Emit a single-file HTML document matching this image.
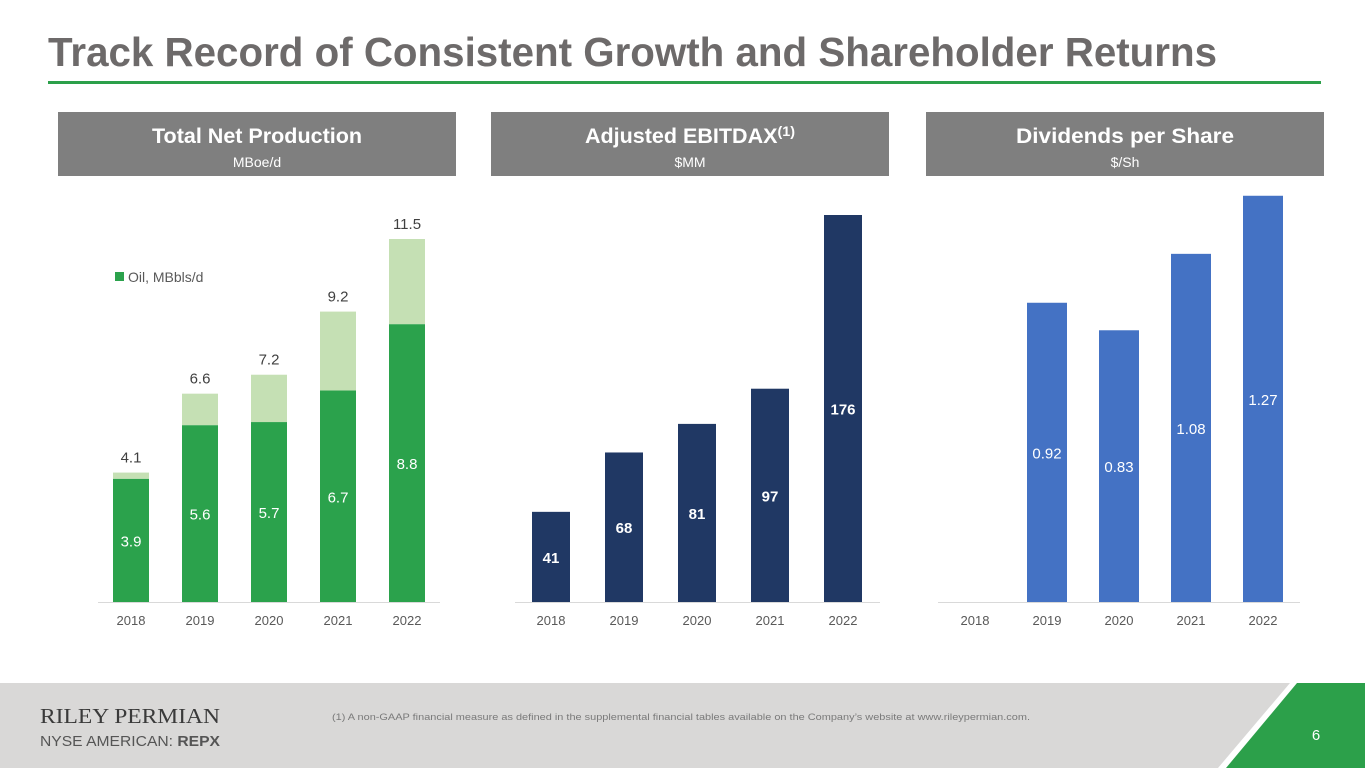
<!DOCTYPE html>
<html><head><meta charset="utf-8"><style>
body{margin:0;background:#fff;}
svg{display:block;font-family:"Liberation Sans",sans-serif;}
</style></head><body>
<svg id="s" width="1365" height="768" viewBox="0 0 1365 768">
<text x="48" y="66" font-size="41" font-weight="bold" fill="#6d6a6a" textLength="1169" lengthAdjust="spacingAndGlyphs">Track Record of Consistent Growth and Shareholder Returns</text>
<rect x="48" y="81" width="1273" height="3" fill="#2ca04a"/>
<g>
<rect x="58" y="112" width="398" height="64" fill="#7f7f7f"/>
<text x="257" y="143" font-size="21" font-weight="bold" fill="#fff" text-anchor="middle" textLength="210" lengthAdjust="spacingAndGlyphs">Total Net Production</text>
<text x="257" y="167" font-size="14" fill="#fff" text-anchor="middle">MBoe/d</text></g>
<g>
<rect x="491" y="112" width="398" height="64" fill="#7f7f7f"/>
<text x="690" y="143" font-size="21" font-weight="bold" fill="#fff" text-anchor="middle" textLength="210" lengthAdjust="spacingAndGlyphs">Adjusted EBITDAX<tspan font-size="14" dy="-7">(1)</tspan></text>
<text x="690" y="167" font-size="14" fill="#fff" text-anchor="middle">$MM</text></g>
<g>
<rect x="926" y="112" width="398" height="64" fill="#7f7f7f"/>
<text x="1125" y="143" font-size="21" font-weight="bold" fill="#fff" text-anchor="middle" textLength="218" lengthAdjust="spacingAndGlyphs">Dividends per Share</text>
<text x="1125" y="167" font-size="14" fill="#fff" text-anchor="middle">$/Sh</text></g>
<g id="c1"></g>
<g id="c2"></g>
<g id="c3"></g>
<g>
<rect x="115" y="272" width="9" height="9" fill="#2ba24c"/>
<text x="128" y="282" font-size="14" fill="#595959">Oil, MBbls/d</text></g>
<g>
<polygon points="0,683 1290,683 1218,768 0,768" fill="#d9d8d7"/>
<polygon points="1297,683 1365,683 1365,768 1226,768" fill="#2ca04a"/>
<text x="40" y="723" font-family="Liberation Serif,serif" font-size="21" fill="#3a3a3a" textLength="180" lengthAdjust="spacingAndGlyphs">RILEY PERMIAN</text>
<text x="40" y="746" font-size="15" fill="#555" textLength="180" lengthAdjust="spacingAndGlyphs">NYSE AMERICAN: <tspan font-weight="bold">REPX</tspan></text>
<text x="332" y="720" font-size="9.5" fill="#7a7a7a" textLength="698" lengthAdjust="spacingAndGlyphs">(1)  A non-GAAP financial measure as defined in the supplemental financial tables available on the Company’s website at www.rileypermian.com.</text>
<text x="1316" y="740" font-size="15" fill="#fff" text-anchor="middle">6</text>
</g>
</svg>
<script>
const years=["2018","2019","2020","2021","2022"];
const totalProd=[4.1,6.6,7.2,9.2,11.5];
const oilProd=[3.9,5.6,5.7,6.7,8.8];
const ebitdax=[41,68,81,97,176];
const dividends=[null,0.92,0.83,1.08,1.27];
const NS="http://www.w3.org/2000/svg";
function mk(p,t,a,txt){const e=document.createElementNS(NS,t);for(const k in a)e.setAttribute(k,a[k]);if(txt!=null)e.textContent=txt;p.appendChild(e);return e;}
const base=602;
function axis(g,x0,x1,cx){
 const l=mk(g,'line',{x1:x0,x2:x1,y1:base+0.5,y2:base+0.5,stroke:'#d9d9d9','stroke-width':1});
 
 
 years.forEach((y,i)=>{const t=mk(g,'text',{x:cx(i),y:base+23,'font-size':13,fill:'#595959','text-anchor':'middle'},y);
  
  });
}
// chart 1
(function(){const g=document.getElementById('c1');
 const cx=i=>131+i*69, sy=v=>v*(363/11.5), w=36;
 axis(g,98,440,cx);
 years.forEach((y,i)=>{
  const ht=sy(totalProd[i]), ho=sy(oilProd[i]);
  const a=mk(g,'rect',{x:cx(i)-w/2,y:base-ht,width:w,height:ht-ho,fill:'#c5e0b4'});
  
  
  const b=mk(g,'rect',{x:cx(i)-w/2,y:base-ho,width:w,height:ho,fill:'#2ba24c'});
  
  
  const t=mk(g,'text',{x:cx(i),y:base-ht-10,'font-size':15,fill:'#404040','text-anchor':'middle'},totalProd[i].toFixed(1));
  
  
  const o=mk(g,'text',{x:cx(i),y:base-ho/2+6,'font-size':15,fill:'#fff','text-anchor':'middle'},oilProd[i].toFixed(1));
  
  
 });})();
// chart 2
(function(){const g=document.getElementById('c2');
 const cx=i=>551+i*73, sy=v=>v*(387/176), w=38;
 axis(g,515,880,cx);
 years.forEach((y,i)=>{const h=sy(ebitdax[i]);
  const b=mk(g,'rect',{x:cx(i)-w/2,y:base-h,width:w,height:h,fill:'#203864'});
  
  
  const t=mk(g,'text',{x:cx(i),y:base-h/2+6,'font-size':15,'font-weight':'bold',fill:'#fff','text-anchor':'middle'},ebitdax[i]);
  
  });})();
// chart 3
(function(){const g=document.getElementById('c3');
 const cx=i=>975+i*72, sy=v=>18+v*305.7, w=40;
 axis(g,938,1300,cx);
 years.forEach((y,i)=>{if(dividends[i]==null)return;const h=sy(dividends[i]);
  const b=mk(g,'rect',{x:cx(i)-w/2,y:base-h,width:w,height:h,fill:'#4472c4'});
  
  
  const t=mk(g,'text',{x:cx(i),y:base-h/2+6,'font-size':15,fill:'#fff','text-anchor':'middle'},dividends[i].toFixed(2));
  
  });})();
</script>
</body></html>
